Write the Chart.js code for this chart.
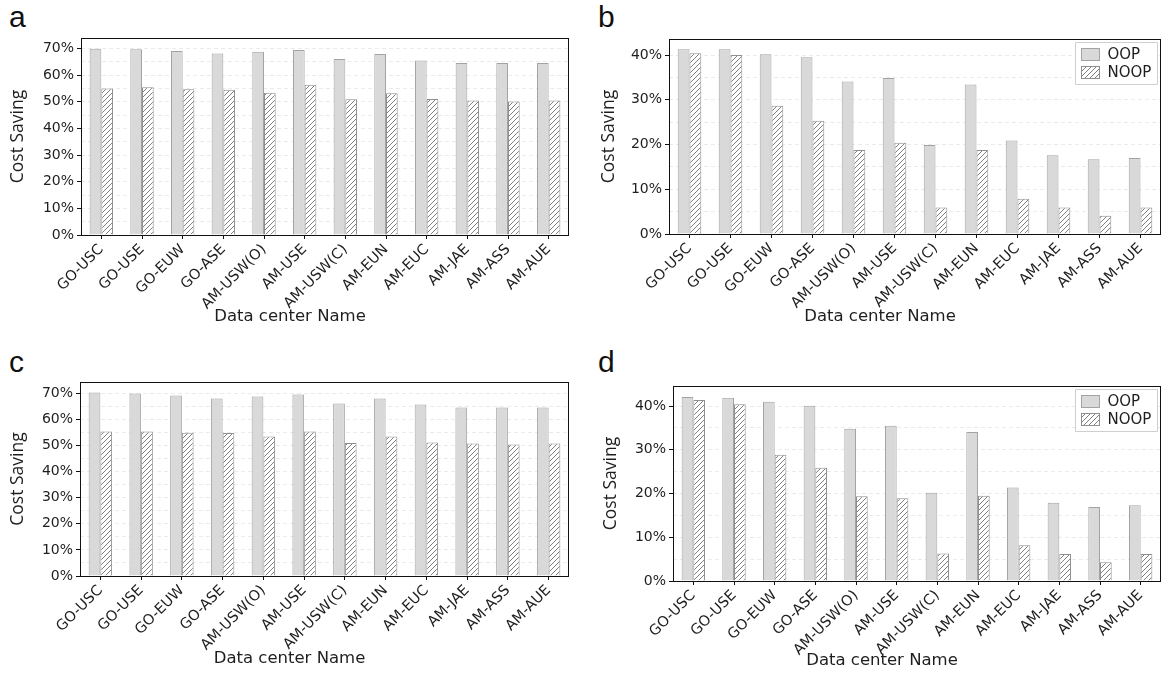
<!DOCTYPE html>
<html>
<head>
<meta charset="utf-8">
<script src="https://cdn.jsdelivr.net/npm/chart.js@4.4.1/dist/chart.umd.min.js"></script>
<style>
  html, body { margin: 0; padding: 0; background: #fff; }
  body { position: relative; width: 1167px; height: 673px; overflow: hidden; }
  canvas { position: absolute; display: block; }
  .tag { position: absolute; font: 30px "Liberation Sans", Arial, sans-serif; line-height: 30px; color: #111; }
</style>
</head>
<body>
<div class="tag" style="left:9px;top:2px">a</div>
<div class="tag" style="left:598px;top:2px">b</div>
<div class="tag" style="left:9px;top:347px">c</div>
<div class="tag" style="left:598px;top:347px">d</div>
<canvas id="chartA" width="583" height="336" style="left:0;top:0"></canvas>
<canvas id="chartB" width="584" height="336" style="left:583px;top:0"></canvas>
<canvas id="chartC" width="583" height="337" style="left:0;top:336px"></canvas>
<canvas id="chartD" width="584" height="337" style="left:583px;top:336px"></canvas>
<script>
// Data centers on the x axis
const centers = ['GO-USC', 'GO-USE', 'GO-EUW', 'GO-ASE', 'AM-USW(O)', 'AM-USE',
                 'AM-USW(C)', 'AM-EUN', 'AM-EUC', 'AM-JAE', 'AM-ASS', 'AM-AUE'];
const seriesNames = ['OOP', 'NOOP'];
const xTitle = 'Data center Name';
const yTitle = 'Cost Saving';

// Cost saving (%) per data center
const oopA  = [69.9, 69.7, 69.0, 68.1, 68.7, 69.4, 66.0, 67.9, 65.5, 64.5, 64.5, 64.5];
const noopA = [55.0, 55.4, 54.7, 54.5, 53.4, 56.4, 50.9, 53.2, 51.0, 50.5, 50.1, 50.5];
const oopB  = [41.3, 41.3, 40.2, 39.5, 34.1, 34.9, 19.9, 33.4, 20.9, 17.6, 16.7, 17.0];
const noopB = [40.4, 40.0, 28.7, 25.3, 18.8, 20.4, 5.9, 18.8, 7.9, 5.9, 4.1, 5.9];
const oopC  = [70.4, 70.0, 69.2, 68.1, 68.8, 69.6, 66.2, 68.1, 65.8, 64.6, 64.6, 64.6];
const noopC = [55.4, 55.4, 54.9, 54.8, 53.5, 55.4, 51.0, 53.5, 51.2, 50.8, 50.4, 50.8];
const oopD  = [42.1, 41.9, 41.0, 40.1, 34.8, 35.5, 20.2, 34.1, 21.4, 17.9, 16.9, 17.3];
const noopD = [41.4, 40.4, 28.9, 25.9, 19.4, 18.9, 6.3, 19.5, 8.2, 6.2, 4.3, 6.2];

// y ticks: light grid every 5 %, labels every 10 %
const yGridStep = 5;
const yLabelStep = 10;

const OOP_FILL = '#d9d9d9', OOP_EDGE = '#a3a3a3', NOOP_EDGE = '#8f8f8f';
const TEXT = '#1e1e1e';
const SANS = '"DejaVu Sans", Verdana, sans-serif';
const TICK_FONT = { family: SANS, size: 14 };
const XTICK_FONT = { family: SANS, size: 14.5 };

function makeHatch() {
  const s = 5;
  const c = document.createElement('canvas');
  c.width = s; c.height = s;
  const g = c.getContext('2d');
  g.fillStyle = '#ffffff';
  g.fillRect(0, 0, s, s);
  g.strokeStyle = '#707070';
  g.lineWidth = 0.9;
  g.beginPath();
  g.moveTo(0, s); g.lineTo(s, 0);
  g.moveTo(-1, 1); g.lineTo(1, -1);
  g.moveTo(s - 1, s + 1); g.lineTo(s + 1, s - 1);
  g.stroke();
  return g.createPattern(c, 'repeat');
}
const hatch = makeHatch();

// Closed frame around the plotting area
const framePlugin = {
  id: 'frame',
  afterDatasetsDraw(chart) {
    const { ctx, chartArea: a } = chart;
    ctx.save();
    ctx.strokeStyle = '#111';
    ctx.lineWidth = 1;
    const l = Math.round(a.left) + 0.5, t = Math.round(a.top) + 0.5;
    const r = Math.round(a.right) - 0.5, b = Math.round(a.bottom) + 0.5;
    ctx.strokeRect(l, t, r - l, b - t);
    ctx.restore();
  }
};

// x-axis title, drawn a little left of the plot centre
const xTitlePlugin = {
  id: 'xTitle',
  afterDraw(chart, args, opts) {
    const { ctx, chartArea: a } = chart;
    ctx.save();
    ctx.font = '16.5px ' + SANS;
    ctx.fillStyle = TEXT;
    ctx.textAlign = 'center';
    ctx.textBaseline = 'middle';
    ctx.fillText(opts.text, (a.left + a.right) / 2 + opts.shift, opts.y);
    ctx.restore();
  }
};

// Framed legend box in the upper right corner of the plot
const boxLegendPlugin = {
  id: 'boxLegend',
  afterDraw(chart, args, opts) {
    if (!opts.show) return;
    const { ctx, chartArea: a } = chart;
    const w = 82, h = 42;
    const x = Math.round(a.right - 4 - w) + 0.5, y = Math.round(a.top + 3) + 0.5;
    ctx.save();
    ctx.fillStyle = '#fff';
    ctx.strokeStyle = '#cfcfcf';
    ctx.lineWidth = 1;
    ctx.beginPath();
    ctx.rect(x, y, w, h);
    ctx.fill();
    ctx.stroke();
    ctx.font = '15px ' + SANS;
    ctx.textBaseline = 'middle';
    chart.data.datasets.forEach((ds, i) => {
      const sy = y + 6 + i * 18;
      ctx.fillStyle = ds.backgroundColor;
      ctx.fillRect(x + 6, sy, 18, 12);
      ctx.strokeStyle = ds.borderColor;
      ctx.strokeRect(x + 6, sy, 18, 12);
      ctx.fillStyle = TEXT;
      ctx.fillText(ds.label, x + 32, sy + 6.5);
    });
    ctx.restore();
  }
};

Chart.register(framePlugin, xTitlePlugin, boxLegendPlugin);

function panel(cfg) {
  const canvas = document.getElementById(cfg.id);
  const cw = canvas.width, ch = canvas.height;
  const area = cfg.area; // plot area in canvas coordinates
  return new Chart(canvas, {
    type: 'bar',
    data: {
      labels: centers,
      datasets: [
        { label: seriesNames[0], data: cfg.oop, backgroundColor: OOP_FILL, borderColor: OOP_EDGE, borderWidth: 1 },
        { label: seriesNames[1], data: cfg.noop, backgroundColor: hatch, borderColor: NOOP_EDGE, borderWidth: 1 }
      ]
    },
    options: {
      responsive: false,
      animation: false,
      events: [],
      layout: { padding: { left: 0, top: area.top, right: cw - area.right, bottom: 0 } },
      datasets: { bar: { categoryPercentage: 0.575, barPercentage: 1.0 } },
      plugins: {
        legend: { display: false },
        tooltip: { enabled: false },
        xTitle: { text: xTitle, shift: -35, y: cfg.xTitleY },
        boxLegend: { show: cfg.legend }
      },
      scales: {
        x: {
          afterFit(s) { s.height = ch - area.bottom; },
          border: { display: false },
          grid: { drawOnChartArea: false, drawTicks: true, tickLength: 4, offset: false, tickColor: '#111', tickWidth: 1 },
          ticks: { color: TEXT, font: XTICK_FONT, maxRotation: 45, minRotation: 45, autoSkip: false, padding: 2 }
        },
        y: {
          min: 0,
          max: cfg.yMax,
          afterFit(s) { s.width = area.left; },
          border: { display: false, dash: [4, 3] },
          grid: {
            color: (c) => (c.tick && c.tick.value > 0 ? '#ebebeb' : 'rgba(0,0,0,0)'),
            lineWidth: 1,
            tickLength: 4,
            tickColor: (c) => (c.tick && c.tick.value % yLabelStep === 0 ? '#111' : 'rgba(0,0,0,0)'),
            tickWidth: 1
          },
          ticks: {
            stepSize: yGridStep,
            includeBounds: false,
            autoSkip: false,
            color: TEXT,
            font: TICK_FONT,
            padding: 3,
            callback: (v) => (v % yLabelStep === 0 ? v + '%' : '')
          },
          title: {
            display: true,
            text: yTitle,
            color: TEXT,
            font: { family: '"Open Sans", "Noto Sans", sans-serif', size: 17.5 },
            padding: { top: cfg.yTitlePad, bottom: 0 }
          }
        }
      }
    }
  });
}

panel({ id: 'chartA', oop: oopA, noop: noopA, yMax: 73.9, legend: false,
        area: { left: 81, top: 38, right: 569, bottom: 235 }, xTitleY: 317, yTitlePad: 8 });
panel({ id: 'chartB', oop: oopB, noop: noopB, yMax: 43.6, legend: true,
        area: { left: 86, top: 39, right: 578, bottom: 234 }, xTitleY: 317, yTitlePad: 16 });
panel({ id: 'chartC', oop: oopC, noop: noopC, yMax: 74.4, legend: false,
        area: { left: 80, top: 46, right: 569, bottom: 240 }, xTitleY: 323, yTitlePad: 8 });
panel({ id: 'chartD', oop: oopD, noop: noopD, yMax: 44.6, legend: true,
        area: { left: 90, top: 50, right: 578, bottom: 245 }, xTitleY: 325, yTitlePad: 18 });
</script>
</body>
</html>
